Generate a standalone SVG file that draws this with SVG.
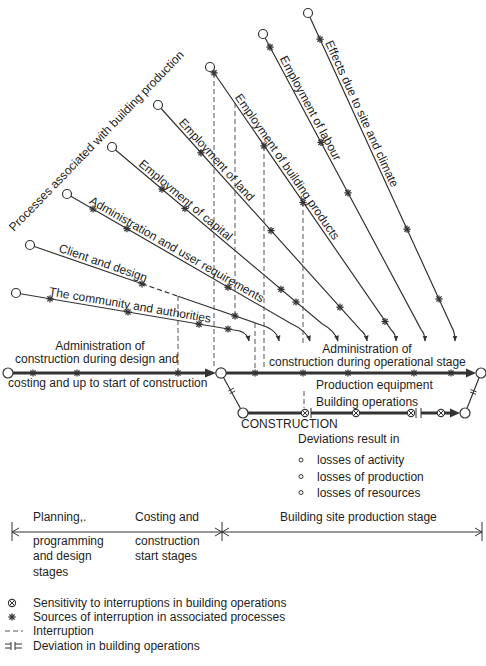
<svg xmlns="http://www.w3.org/2000/svg" xmlns:xlink="http://www.w3.org/1999/xlink" width="486" height="666" viewBox="0 0 486 666">
  <defs>
    <style>
      text { font-family: "Liberation Sans", Arial, sans-serif; font-size: 12px; fill: #1e1e1e; }
      .ln { fill: none; stroke: #333; stroke-width: 1.2; }
      .lnd { fill: none; stroke: #333; stroke-width: 1.2; stroke-dasharray: 5 3; }
      .thick { fill: none; stroke: #333; stroke-width: 3; }
      .dash { fill: none; stroke: #555; stroke-width: 1; stroke-dasharray: 5 3; }
      .node { fill: #fff; stroke: #333; stroke-width: 1.2; }
      .thin { fill: none; stroke: #333; stroke-width: 1; }
      .head { fill: #333; stroke: none; }
    </style>
    <marker id="tip" viewBox="0 0 10 10" refX="9" refY="5" markerWidth="6" markerHeight="6" markerUnits="userSpaceOnUse" orient="auto">
      <path d="M0,1 L10,5 L0,9 z" fill="#333"/>
    </marker>
    <!-- source of interruption -->
    <g id="ast" stroke="#333" stroke-width="1.3">
      <line x1="-3.6" y1="0" x2="3.6" y2="0"/>
      <line x1="0" y1="-3.6" x2="0" y2="3.6"/>
      <line x1="-2.6" y1="-2.6" x2="2.6" y2="2.6"/>
      <line x1="-2.6" y1="2.6" x2="2.6" y2="-2.6"/>
    </g>
    <!-- sensitivity to interruption -->
    <g id="sens">
      <circle r="3.6" fill="#fff" stroke="#333" stroke-width="1.1"/>
      <line x1="-2.5" y1="-2.5" x2="2.5" y2="2.5" stroke="#333" stroke-width="1"/>
      <line x1="-2.5" y1="2.5" x2="2.5" y2="-2.5" stroke="#333" stroke-width="1"/>
    </g>
  </defs>

  <rect width="486" height="666" fill="#fff"/>

  <!-- heading of the fan of associated processes -->
  <text transform="translate(14,232) rotate(-46)">Processes associated with building production</text>

  <g id="connectors">
    <!-- associated processes -->
    <path class="ln" marker-end="url(#tip)" d="M16,293 L234,330 Q247,331 249,341"/>
    <path class="ln" d="M30,245 L142,283.8"/>
    <path class="lnd" d="M142,283.8 L178,296.2"/>
    <path class="ln" marker-end="url(#tip)" d="M178,296.2 L262,325.3 Q277,330 279,341"/>
    <path class="ln" marker-end="url(#tip)" d="M67,194 L290,323 Q307,331 310,341"/>
    <path class="ln" marker-end="url(#tip)" d="M112,147 L322,323.8 Q335,331 338,341"/>
    <path class="ln" marker-end="url(#tip)" d="M158,105 L360,329.4 Q366,334 367,341"/>
    <path class="ln" marker-end="url(#tip)" d="M210,67 L391,329.7 Q396,334 396,341"/>
    <path class="ln" marker-end="url(#tip)" d="M263,34 L421,329.3 Q425,334 425,341"/>
    <path class="ln" marker-end="url(#tip)" d="M308,13 L452,327.4 Q455,333 455,341"/>

    <!-- interruptions -->
    <path class="dash" d="M178,296 V373"/>
    <path class="dash" d="M214,73 V368"/>
    <path class="dash" d="M235,103 V316"/>
    <path class="dash" d="M255,323 V373"/>
    <path class="dash" d="M264,146 V370"/>
    <path class="dash" d="M303,202 V346 M304,391 V408"/>

    <!-- administration of construction, design stage -->
    <path class="thick" d="M13,373 H207"/>
    <polygon class="head" points="205,368.5 216,373 205,377.5"/>
    <!-- administration of construction, operational stage -->
    <path class="thick" d="M226,373 H468"/>
    <polygon class="head" points="466,368.5 476,373 466,377.5"/>

    <!-- building operations -->
    <path class="ln" d="M223.5,377.5 L240.5,408.5"/>
    <path class="thin" d="M228.4,391 L233.8,388.2 M229.8,393.7 L235.2,390.9"/>
    <path class="thick" d="M248,413 H301 M311,413 H352 M360,413 H407 M421,413 H437 M445,413 H452"/>
    <path class="thin" d="M311,408 V418 M416,408 V418 M421,408 V418"/>
    <polygon class="head" points="450,408.5 460,413 450,417.5"/>
    <path class="ln" d="M467,408.3 L479,378"/>
    <path class="thin" d="M470,392 L476,394.3 M470.5,389.6 L476.6,391.9"/>

    <!-- stage ruler -->
    <path class="thin" d="M12,532 H482 M12,522 V541 M222,522 V541 M482,522 V541"/>
    <path class="thin" d="M19,528 L12,532 L19,536 M215,528 L222,532 L215,536 M229,528 L222,532 L229,536 M475,528 L482,532 L475,536"/>
  </g>

  <!-- marks on the process lines -->
  <g id="marks">
    <use xlink:href="#ast" x="50" y="298.8"/>
    <use xlink:href="#ast" x="128" y="312"/>
    <use xlink:href="#ast" x="199" y="324.1"/>
    <use xlink:href="#ast" x="228" y="329"/>
    <use xlink:href="#ast" x="142" y="283.8"/>
    <use xlink:href="#ast" x="235" y="316"/>
    <use xlink:href="#ast" x="93" y="209"/>
    <use xlink:href="#ast" x="127" y="228.7"/>
    <use xlink:href="#ast" x="228" y="287.2"/>
    <use xlink:href="#ast" x="162" y="189.1"/>
    <use xlink:href="#ast" x="185" y="208.5"/>
    <use xlink:href="#ast" x="281" y="289.3"/>
    <use xlink:href="#ast" x="296" y="302"/>
    <use xlink:href="#ast" x="201" y="152.8"/>
    <use xlink:href="#ast" x="271" y="230.6"/>
    <use xlink:href="#ast" x="340" y="307.2"/>
    <use xlink:href="#ast" x="214" y="72.8"/>
    <use xlink:href="#ast" x="264" y="145.9"/>
    <use xlink:href="#ast" x="303" y="202.5"/>
    <use xlink:href="#ast" x="385" y="321.5"/>
    <use xlink:href="#ast" x="270" y="47.1"/>
    <use xlink:href="#ast" x="321" y="142.4"/>
    <use xlink:href="#ast" x="348" y="192.9"/>
    <use xlink:href="#ast" x="320" y="39.2"/>
    <use xlink:href="#ast" x="407" y="229.2"/>
    <use xlink:href="#ast" x="439" y="299"/>
    <!-- on the administration line -->
    <use xlink:href="#ast" x="33" y="373"/>
    <use xlink:href="#ast" x="77" y="373"/>
    <use xlink:href="#ast" x="178" y="373"/>
    <use xlink:href="#ast" x="255" y="373"/>
    <use xlink:href="#ast" x="303" y="373"/>
    <use xlink:href="#ast" x="348" y="373"/>
    <use xlink:href="#ast" x="414" y="373"/>
    <use xlink:href="#ast" x="451" y="373"/>
    <!-- on the building operations line -->
    <use xlink:href="#sens" x="305" y="413"/>
    <use xlink:href="#sens" x="356" y="413"/>
    <use xlink:href="#sens" x="411" y="413"/>
    <use xlink:href="#sens" x="441" y="413"/>
  </g>

  <!-- events -->
  <g id="n-community"><circle class="node" cx="16" cy="293" r="4.5"/></g>
  <g id="n-client"><circle class="node" cx="30" cy="245" r="4.5"/></g>
  <g id="n-admin-user"><circle class="node" cx="67" cy="194" r="4.5"/></g>
  <g id="n-capital"><circle class="node" cx="112" cy="147" r="4.5"/></g>
  <g id="n-land"><circle class="node" cx="158" cy="105" r="4.5"/></g>
  <g id="n-products"><circle class="node" cx="210" cy="67" r="4.5"/></g>
  <g id="n-labour"><circle class="node" cx="263" cy="34" r="4.5"/></g>
  <g id="n-site"><circle class="node" cx="308" cy="13" r="4.5"/></g>
  <g id="n-design-start"><circle class="node" cx="8" cy="373" r="5"/></g>
  <g id="n-construction-start"><circle class="node" cx="221" cy="373" r="5.2"/></g>
  <g id="n-operations-start"><circle class="node" cx="243" cy="413" r="5"/></g>
  <g id="n-operations-end"><circle class="node" cx="465" cy="413" r="5"/></g>
  <g id="n-end"><circle class="node" cx="481" cy="373" r="5"/></g>

  <!-- process labels -->
  <g id="labels">
    <text transform="translate(48.5,295.3) rotate(9.6)">The community and authorities</text>
    <text transform="translate(58,251.5) rotate(19.1)">Client and design</text>
    <text transform="translate(88.5,203) rotate(30)">Administration and user requirements</text>
    <text transform="translate(138,165.2) rotate(40.1)">Employment of capital</text>
    <text transform="translate(178.2,123) rotate(48)">Employment of land</text>
    <text transform="translate(234.5,97.3) rotate(55.4)">Employment of building products</text>
    <text transform="translate(279.5,58.6) rotate(61.85)">Employment of labour</text>
    <text transform="translate(324.9,42.8) rotate(65.4)">Effects due to site and climate</text>

    <text x="100" y="349.5" text-anchor="middle">Administration of</text>
    <text x="15" y="363">construction during design and</text>
    <text x="8" y="387">costing and up to start of construction</text>
    <text x="367" y="352.5" text-anchor="middle">Administration of</text>
    <text x="269" y="366">construction during operational stage</text>
    <text x="316" y="389">Production equipment</text>
    <text x="316" y="406">Building operations</text>
    <text x="241" y="428">CONSTRUCTION</text>
    <text x="298" y="443">Deviations result in</text>
    <circle class="thin" cx="301" cy="460" r="2"/>
    <circle class="thin" cx="301" cy="476.5" r="2"/>
    <circle class="thin" cx="301" cy="492.5" r="2"/>
    <text x="317" y="464">losses of activity</text>
    <text x="317" y="480.5">losses of production</text>
    <text x="317" y="496.5">losses of resources</text>
  </g>

  <!-- stages -->
  <g id="stages">
    <text x="33" y="521">Planning,.</text>
    <text x="33" y="545">programming</text>
    <text x="33" y="560">and design</text>
    <text x="33" y="576">stages</text>
    <text x="135" y="521">Costing and</text>
    <text x="135" y="545">construction</text>
    <text x="135" y="560">start stages</text>
    <text x="280" y="521">Building site production stage</text>
  </g>

  <!-- key -->
  <g id="key">
    <use xlink:href="#sens" x="12" y="603"/>
    <use xlink:href="#ast" x="12" y="617"/>
    <path class="dash" d="M5,631 H23" stroke-dasharray="4 3"/>
    <path class="thin" d="M5,644 H11 M5,648 H11 M11,642 V650 M15,642 V650 M15,644 H22 M15,648 H22"/>
    <text x="33" y="607">Sensitivity to interruptions in building operations</text>
    <text x="33" y="621">Sources of interruption in associated processes</text>
    <text x="33" y="635">Interruption</text>
    <text x="33" y="650">Deviation in building operations</text>
  </g>
</svg>
